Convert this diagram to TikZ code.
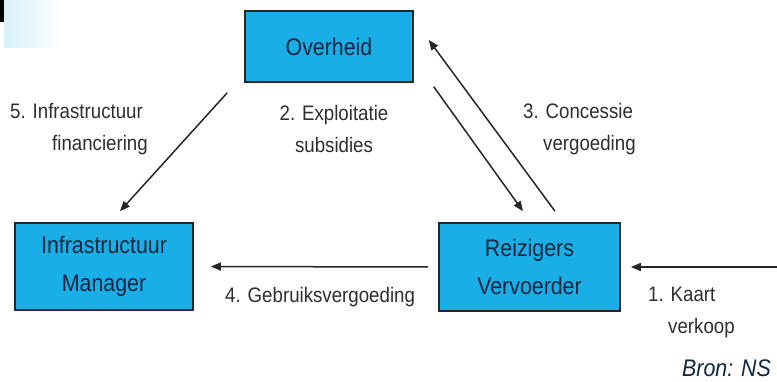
\documentclass[tikz,border=0pt]{standalone}
\usepackage{fontspec}
\setmainfont{Liberation Sans}[FakeStretch=0.89]
\usetikzlibrary{arrows.meta,calc,positioning,fadings}
\definecolor{boxblue}{HTML}{1AAEE6}
\definecolor{boxtext}{HTML}{10253F}
\definecolor{lbltext}{HTML}{2E2E2E}
\definecolor{glow}{HTML}{D6F1F9}

\tikzset{
  box/.style={draw=black!85, line width=1.6pt, fill=boxblue, align=center, text=boxtext,
    font=\fontsize{24}{38}\selectfont, inner sep=0pt},
  flow/.style={-{Triangle[length=10pt,width=8pt]}, line width=1.5pt, draw=black!85},
  lbl/.style={text=lbltext, font=\fontsize{21}{32}\selectfont, inner sep=0pt},
}

\begin{document}
\begin{tikzpicture}[x=1pt,y=-1pt]
\useasboundingbox (0,0) rectangle (777,381);
% slide corner
\fill[glow, path fading=east] (4,0) rectangle (64,48);
\fill[black] (0,0) rectangle (4,22);
% Parties
\node[box, minimum width=168pt, minimum height=71pt] (ov) at (329,46.5) {Overheid};
\node[box, minimum width=178pt, minimum height=87pt] (im) at (104,266.5) {Infrastructuur\\Manager};
\node[box, minimum width=181pt, minimum height=88pt] (rv) at (529.5,267) {Reizigers\\Vervoerder};
% Money flows
\coordinate (reiziger) at (777,267);
\draw[flow, shorten >=10pt] (reiziger) -- (rv.east);
\draw[flow] ([xshift=20pt,yshift=-4pt]ov.south east) -- ([xshift=-6.5pt,yshift=11pt]rv.north);
\draw[flow] ([xshift=25.5pt,yshift=11pt]rv.north) -- ([xshift=15pt,yshift=6.5pt]ov.east);
\draw[flow, shorten <=10pt, shorten >=17pt] (rv.west) -- (im.east);
\draw[flow] ([xshift=-17pt,yshift=-10pt]ov.south west) -- ([xshift=16pt,yshift=11pt]im.north);
% Labels
\node[lbl, anchor=west, align=left] (l5) at (10,129) {5. Infrastructuur\\\hspace*{42pt}financiering};
\node[lbl, align=center] (l2) at (334,129) {2. Exploitatie\\subsidies};
\node[lbl, anchor=west, align=left] (l3) at (523,129) {3. Concessie\\\hspace*{20pt}vergoeding};
\node[lbl, anchor=west] (l4) at (225,297) {4. Gebruiksvergoeding};
\node[lbl, anchor=west, align=left] (l1) at (648,312) {1. Kaart\\\hspace*{20pt}verkoop};
\node[text=boxtext, font=\fontsize{24}{30}\selectfont\itshape, anchor=east, inner sep=0pt] (bron) at (771,368) {Bron: NS};
\end{tikzpicture}
\end{document}
